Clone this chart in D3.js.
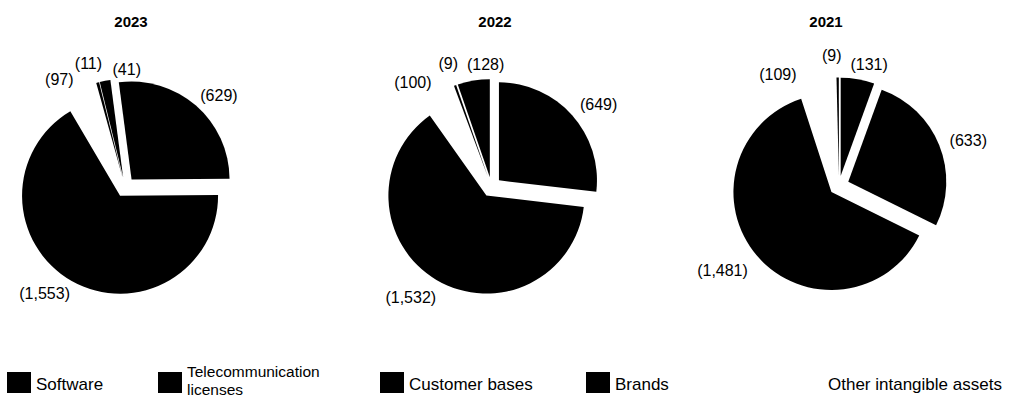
<!DOCTYPE html>
<html><head><meta charset="utf-8">
<script src="https://cdn.jsdelivr.net/npm/d3@7"></script>
<style>
body{margin:0;background:#fff}
text{font-family:"Liberation Sans",Arial,sans-serif;fill:#000}
</style>
</head><body><svg id="chart" width="1010" height="398"></svg>
<script>
// ---- data ----
const categories = ["Software", "Telecommunication licenses", "Customer bases", "Brands", "Other intangible assets"];
const years = ["2023", "2022", "2021"];
const values2023 = [1553, 629, 41, 11, 97];
const values2022 = [1532, 649, 128, 9, 100];
const values2021 = [1481, 633, 131, 9, 109];
const seriesValues = [values2023, values2022, values2021];
const categoryColors = ["#000000", "#000000", "#000000", "#000000", "#ffffff"];

// ---- layout / style ----
const layout = {
  radius: 98,
  explode: 10,
  panels: [
    { cx: 125,   cy: 187,   startDeg: -30.5, titleX: 131 },
    { cx: 491.5, cy: 187,   startDeg: -35.3, titleX: 495 },
    { cx: 839,   cy: 185.5, startDeg: -18,   titleX: 826 }
  ],
  // label placement tweaks: [angle shift from slice bisector (deg), distance from pie centre]
  labelAdjust: [
    [[7.6, 133], [4.5, 131.5], [11.5, 118], [-1.8, 129], [-8.4, 126]],
    [[5.5, 136.8], [4.0, 135.4], [6.8, 122.9], [0.4, 130.6], [-9.2, 130.5]],
    [[4.6, 144.4], [2.65, 136.9], [4.0, 124.7], [-2.5, 130.7], [-19.1, 127]]
  ],
  titleY: 27,
  legendX: [7, 158, 380, 586, 799],
  legendY: 372, swatchW: 24, swatchH: 21, textDX: 29
};

const svg = d3.select("#chart");
const color = d3.scaleOrdinal().domain(categories).range(categoryColors);
const fmt = d3.format(",");
const rad = Math.PI / 180;
const arc = d3.arc().innerRadius(0).outerRadius(layout.radius);

years.forEach((yr, i) => {
  const p = layout.panels[i];
  const s = p.startDeg * rad;
  const pie = d3.pie().sort(null).value(d => d.v).startAngle(s).endAngle(s - 2 * Math.PI);
  const data = pie(seriesValues[i].map((v, k) => ({ v, cat: categories[k], k })));
  const g = svg.append("g").attr("transform", `translate(${p.cx},${p.cy})`);

  g.selectAll("path").data(data).join("path")
    .attr("d", arc)
    .attr("fill", d => color(d.data.cat))
    .attr("transform", d => {
      const m = (d.startAngle + d.endAngle) / 2;
      return `translate(${layout.explode * Math.sin(m)},${-layout.explode * Math.cos(m)})`;
    });

  g.selectAll("text.lbl").data(data).join("text")
    .attr("class", "lbl")
    .attr("font-size", 16)
    .attr("text-anchor", "middle")
    .attr("dy", "0.35em")
    .attr("transform", d => {
      const adj = layout.labelAdjust[i][d.data.k];
      const m = (d.startAngle + d.endAngle) / 2 + adj[0] * rad;
      const la = d3.arc().innerRadius(adj[1]).outerRadius(adj[1]).startAngle(m).endAngle(m);
      const c = la.centroid();
      return `translate(${c[0]},${c[1]})`;
    })
    .text(d => `(${fmt(d.data.v)})`);

  svg.append("text")
    .attr("x", p.titleX).attr("y", layout.titleY)
    .attr("text-anchor", "middle")
    .attr("font-size", 15).attr("font-weight", "bold")
    .text(yr);
});

// ---- legend ----
const lg = svg.append("g");
categories.forEach((cat, k) => {
  const x = layout.legendX[k];
  lg.append("rect").attr("x", x).attr("y", layout.legendY)
    .attr("width", layout.swatchW).attr("height", layout.swatchH)
    .attr("fill", color(cat));
  if (cat === "Telecommunication licenses") {
    lg.append("text").attr("x", x + layout.textDX).attr("y", 377)
      .attr("font-size", 15.5).text("Telecommunication");
    lg.append("text").attr("x", x + layout.textDX).attr("y", 394.8)
      .attr("font-size", 15.5).text("licenses");
  } else {
    lg.append("text").attr("x", x + layout.textDX).attr("y", 390)
      .attr("font-size", 17).text(cat);
  }
});
</script>
</body></html>
